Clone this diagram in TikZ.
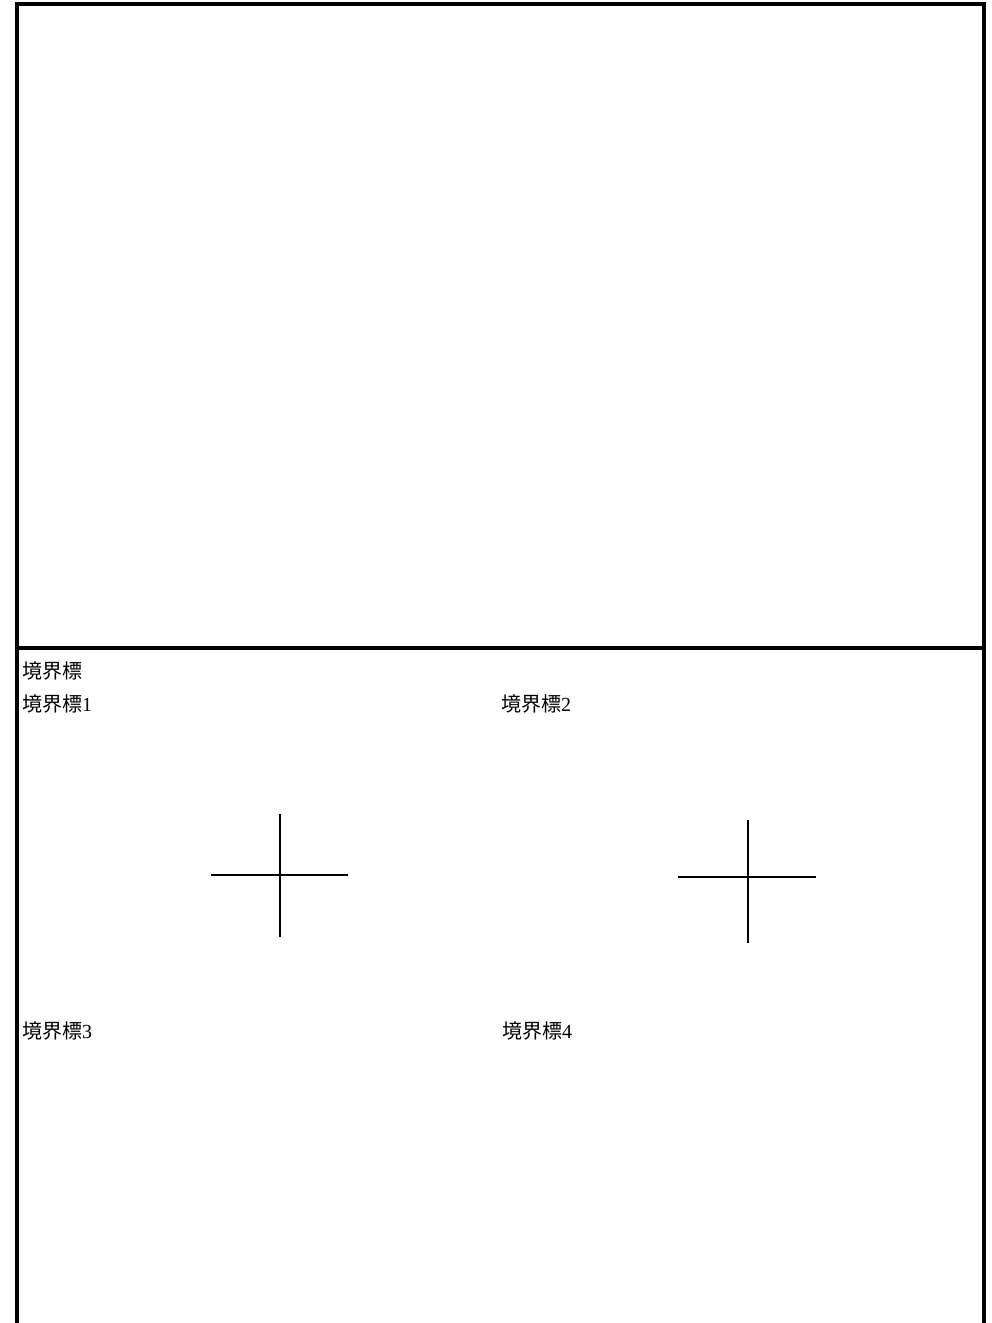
\documentclass[tikz,border=0pt]{standalone}
\usepackage{fontspec}
\setmainfont{Liberation Serif}
\newfontfamily\cjk{Noto Sans CJK JP}
\usetikzlibrary{positioning}
\tikzstyle{frameline} = [line width=4pt]
\tikzstyle{crossline} = [line width=1.2pt]
\tikzstyle{marklabel} = [anchor=base west, inner sep=0pt, font=\fontsize{20}{24}\selectfont]

\begin{document}
\begin{tikzpicture}[x=1pt,y=-1pt]

                    \useasboundingbox (0,0) rectangle (991,1323);

                    % Frame
                    \draw[frameline] (17,1323) -- (17,4) -- (984,4) -- (984,1323);
                    \draw[frameline] (17,648) -- (984,648);

                    % Labels
                    \node[marklabel] (title) at (22,678) {\cjk 境界標};
                    \node[marklabel] (m1) at (22,711) {{\cjk 境界標}1};
                    \node[marklabel] (m2) at (501,711) {{\cjk 境界標}2};
                    \node[marklabel] (m3) at (22,1038) {{\cjk 境界標}3};
                    \node[marklabel] (m4) at (502,1038) {{\cjk 境界標}4};

                    % Crosses
                    \draw[crossline] (280,814) -- (280,937);
                    \draw[crossline] (211,875) -- (348,875);
                    \draw[crossline] (748,820) -- (748,943);
                    \draw[crossline] (678,877) -- (816,877);

                \end{tikzpicture}
\end{document}
